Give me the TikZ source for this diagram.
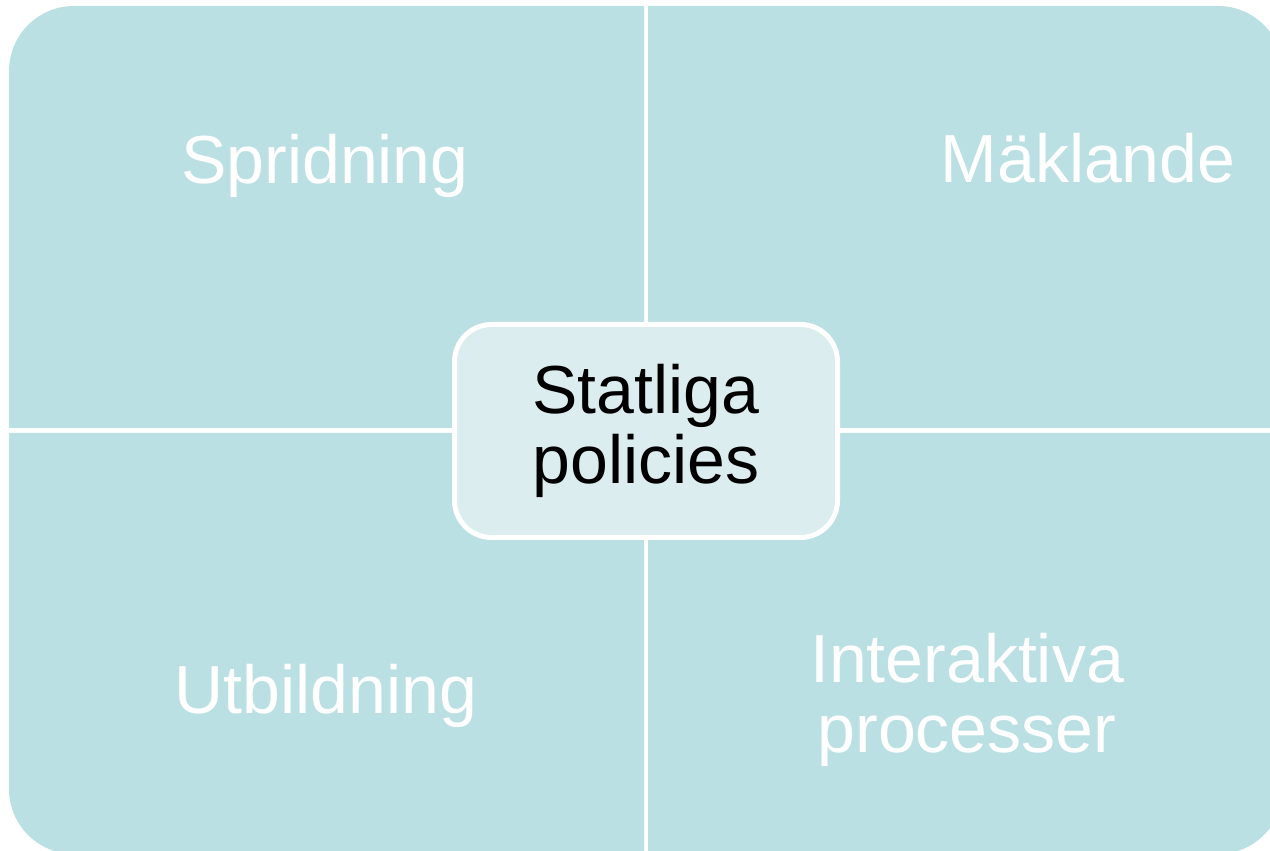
\documentclass[tikz,border=0pt]{standalone}
\usepackage{fontspec}
\setmainfont{Liberation Sans}
\usepackage{tikz}
\usepackage{xcolor}
\definecolor{quadfill}{RGB}{187,224,227}
\definecolor{hubfill}{RGB}{219,237,239}

\begin{document}
\begin{tikzpicture}[
    x=1pt, y=1pt,
    quad/.style={fill=quadfill},
    hub/.style={draw=white, line width=5pt, fill=hubfill, rounded corners=37pt,
        minimum width=383pt, minimum height=213pt, inner sep=0pt,
        font=\fontsize{68}{70}\selectfont, align=center},
    quadtext/.style={text=white, font=\fontsize{68}{70}\selectfont, align=center}
]
    \useasboundingbox (0,0) rectangle (1270,851);
    \clip (0,0) rectangle (1270,851);

    % four quadrants, one round corner each
    \fill[quad] (644,423) -- (9,423) -- (9,780) arc[start angle=180, end angle=90, radius=65pt] -- (644,845) -- cycle;
    \fill[quad] (648,423) -- (648,845) -- (1218,845) arc[start angle=90, end angle=0, radius=65pt] -- (1283,423) -- cycle;
    \fill[quad] (644,418) -- (644,-3) -- (74,-3) arc[start angle=270, end angle=180, radius=65pt] -- (9,62) -- (9,418) -- cycle;
    \fill[quad] (648,418) -- (1283,418) -- (1283,62) arc[start angle=0, end angle=-90, radius=65pt] -- (648,-3) -- cycle;

    \node[quadtext, anchor=base] (spread) at (325,667) {Spridning};
    \node[quadtext, anchor=base] (broker) at (1088,668) {Mäklande};
    \node[quadtext, anchor=base] (edu) at (326,137) {Utbildning};
    \node[quadtext] (interact) at (967,151) {Interaktiva\\processer};

    \node[hub] (policy) at (646,420) {Statliga\\policies};
\end{tikzpicture}
\end{document}
